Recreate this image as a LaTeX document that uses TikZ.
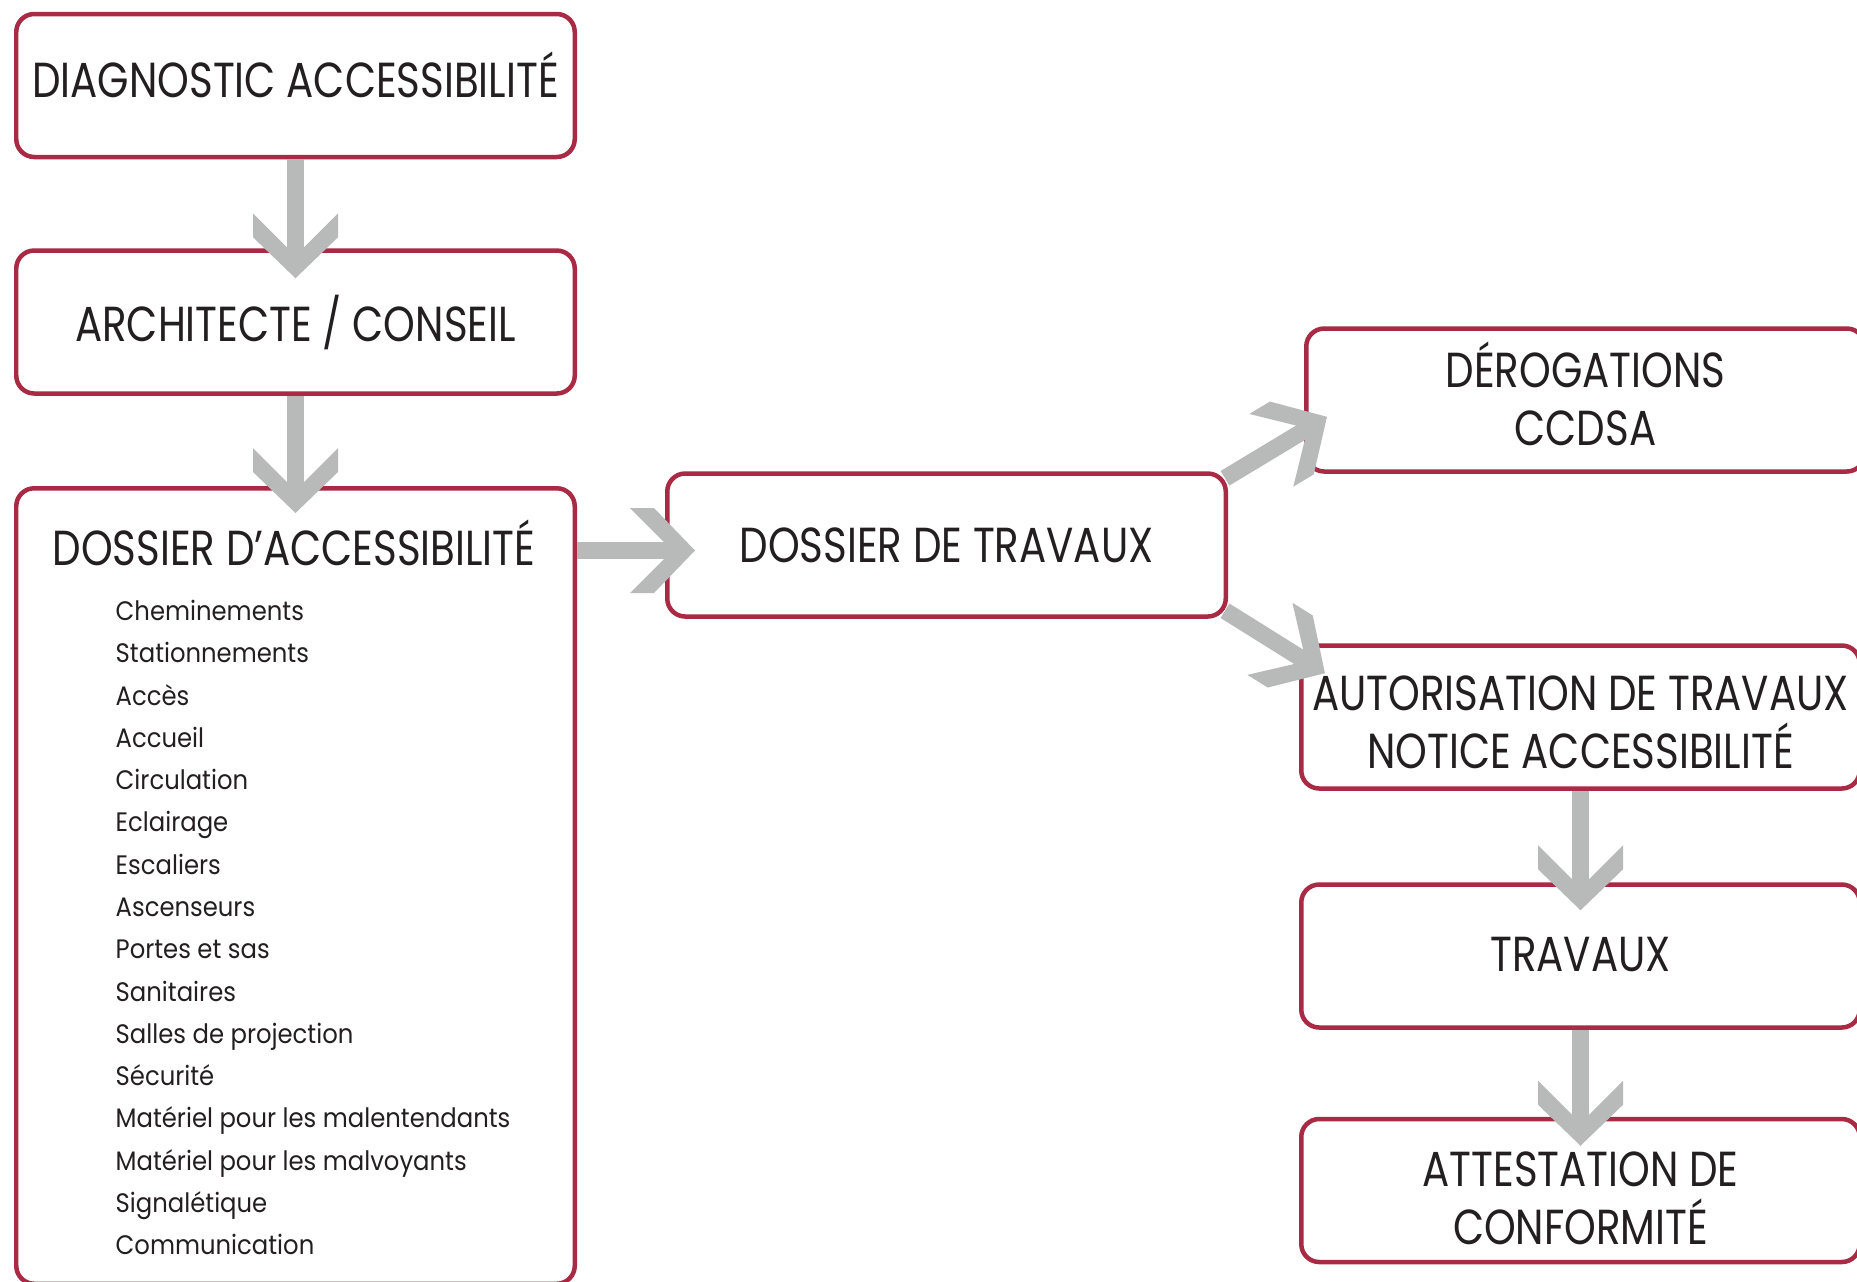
\documentclass[tikz,border=0pt]{standalone}
\usepackage{fontspec}
\newfontfamily\capsfont[FakeStretch=0.82]{Poppins}
\newfontfamily\itemfont[FakeStretch=0.91]{Poppins}
\usepackage{xcolor}
\definecolor{boxred}{RGB}{168,42,68}
\definecolor{arrowgray}{RGB}{184,186,185}
\definecolor{inkblack}{RGB}{35,31,32}
\usetikzlibrary{positioning}
\usetikzlibrary{decorations.markings}

\begin{document}
\begin{tikzpicture}[
	etape/.style={draw=boxred, line width=0.045cm, rounded corners=0.18cm, minimum width=5.585cm, minimum height=1.43cm, inner sep=0pt, align=center, text=inkblack, font=\capsfont\fontsize{14}{16.5}\selectfont},
	titre/.style={inner sep=0pt, align=center, text=inkblack, font=\capsfont\fontsize{14}{16.5}\selectfont},
	liste/.style={inner sep=0pt, align=left, text=inkblack, font=\itemfont\fontsize{7.6}{12.03}\selectfont},
	fleche/.style={draw=arrowgray, line width=0.17cm, shorten >=0.2cm, postaction={decorate},
		decoration={markings, mark=at position 1 with {\fill[arrowgray] (0,0) -- (-0.41,0.425) -- (-0.65,0.425) -- (-0.225,0) -- (-0.65,-0.425) -- (-0.41,-0.425) -- cycle;}}}
	]
	\clip (0,0) rectangle (18.57,-12.81);
	
	%left column
	\node[etape] (diag) at (2.955,-0.855) {\raisebox{0.21cm}{DIAGNOSTIC ACCESSIBILITÉ}};
	\node[etape] (archi) at (2.955,-3.22) {ARCHITECTE / CONSEIL};
	\node[etape, minimum height=7.955cm] (dossacc) at (2.955,-8.86) {};
	\node[titre] (titreacc) at (2.94,-5.43) {DOSSIER D’ACCESSIBILITÉ};
	\node[liste, anchor=north west] (items) at (1.15,-5.995) {Cheminements\\Stationnements\\Accès\\Accueil\\Circulation\\Eclairage\\Escaliers\\Ascenseurs\\Portes et sas\\Sanitaires\\Salles de projection\\Sécurité\\Matériel pour les malentendants\\Matériel pour les malvoyants\\Signalétique\\Communication};
	
	%middle
	\node[etape] (dosstrav) at (9.465,-5.45) {DOSSIER DE TRAVAUX};
	
	%right column
	\node[etape] (derog) at (15.855,-4.00) {};
	\node[titre] (derogtxt) at ([yshift=0.06cm]derog.center) {DÉROGATIONS\\CCDSA};
	\node[etape] (autor) at (15.805,-7.17) {};
	\node[titre] (autortxt) at ([yshift=-0.05cm]autor.center) {AUTORISATION DE TRAVAUX\\NOTICE ACCESSIBILITÉ};
	\node[etape] (travaux) at (15.805,-9.56) {\raisebox{0.04cm}{TRAVAUX}};
	\node[etape] (attest) at (15.805,-11.905) {};
	\node[titre] (attesttxt) at ([yshift=-0.08cm]attest.center) {ATTESTATION DE\\CONFORMITÉ};
	
	%arrows
	\draw[fleche] (diag.south) -- ([yshift=-0.30cm]archi.north);
	\draw[fleche] (archi.south) -- ([yshift=-0.27cm]dossacc.north);
	\draw[fleche] ([yshift=-0.055cm]dossacc.east |- dosstrav.west) -- ([xshift=0.30cm,yshift=-0.055cm]dosstrav.west);
	\draw[fleche] ([xshift=-0.03cm,yshift=-0.07cm]dosstrav.north east) -- ([xshift=0.23cm,yshift=0.57cm]derog.south west);
	\draw[fleche] ([xshift=-0.03cm,yshift=0.08cm]dosstrav.south east) -- ([xshift=0.26cm,yshift=-0.30cm]autor.north west);
	\draw[fleche] (autor.south) -- ([yshift=-0.28cm]travaux.north);
	\draw[fleche] (travaux.south) -- ([yshift=-0.29cm]attest.north);
\end{tikzpicture}
\end{document}
